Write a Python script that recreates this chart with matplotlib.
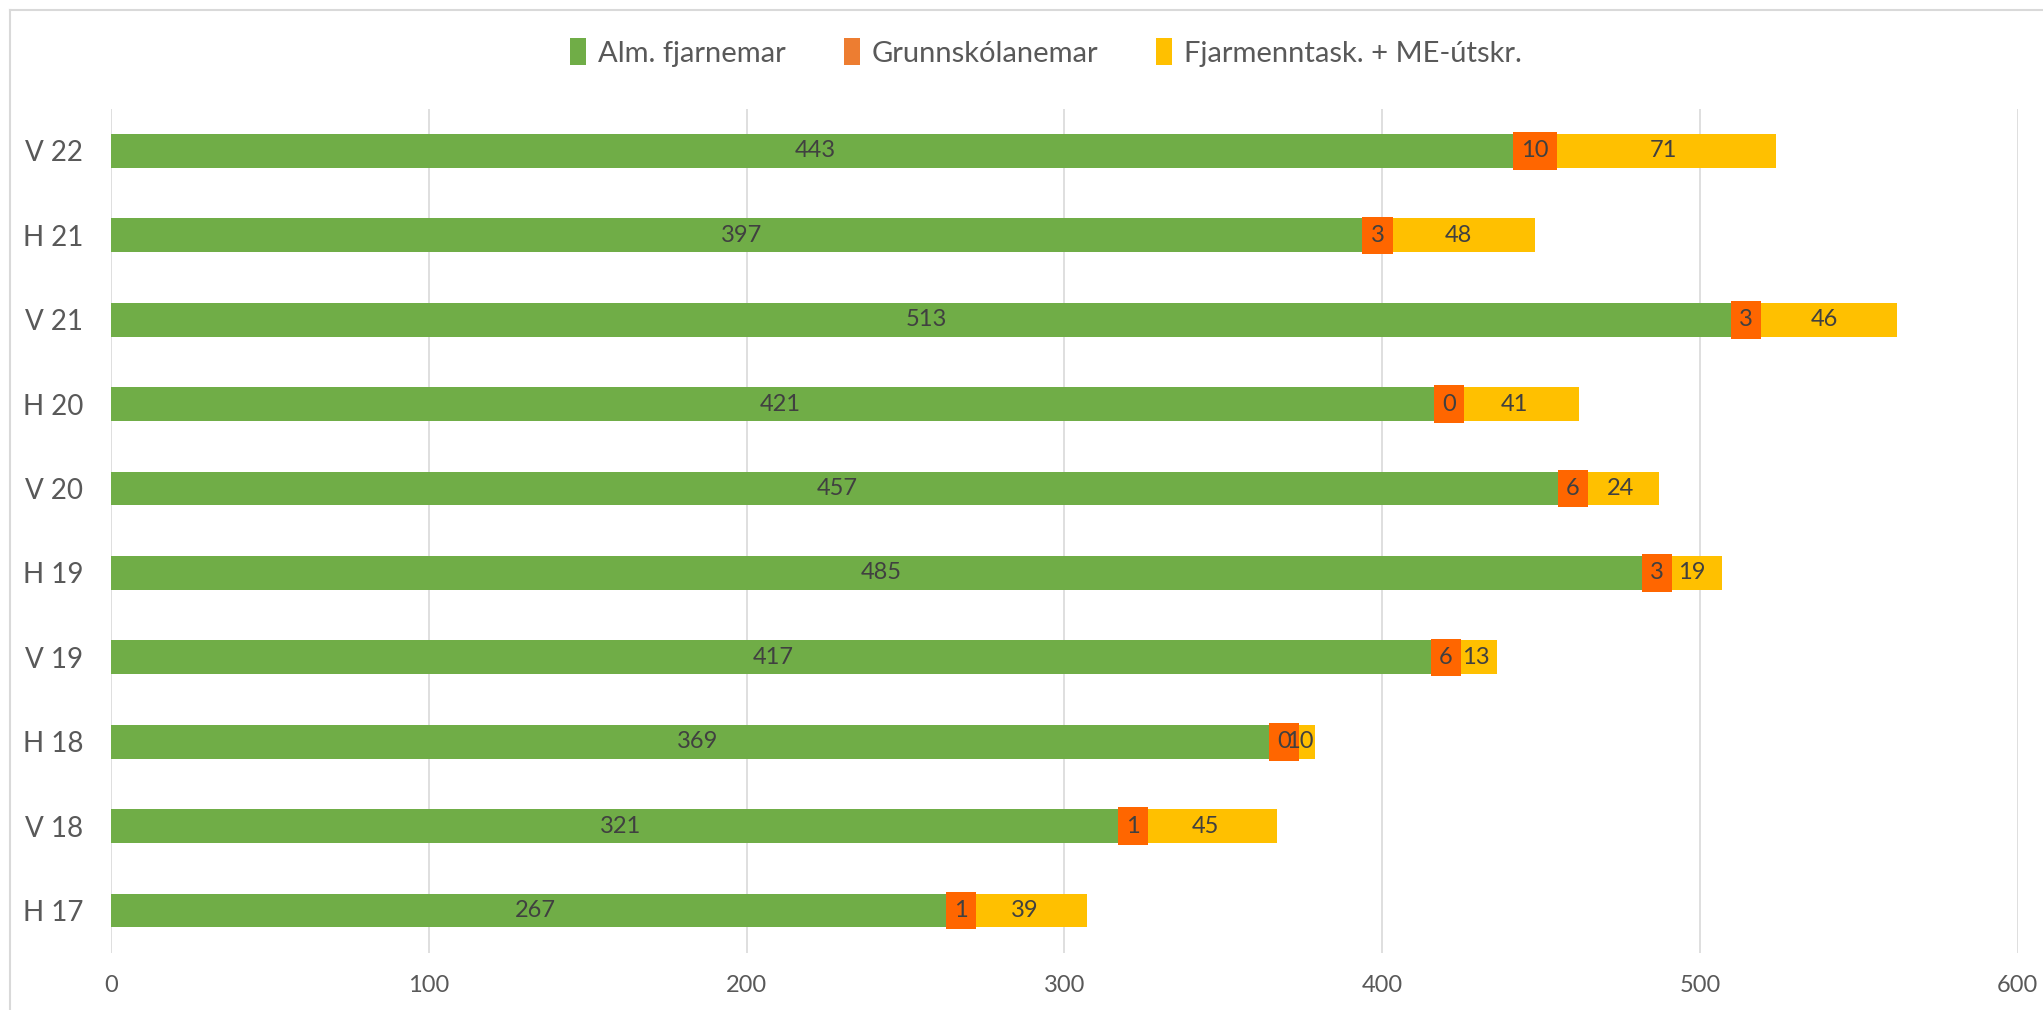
import matplotlib.pyplot as plt
from matplotlib.lines import Line2D

# data, bottom to top
flokkar = ["H 17", "V 18", "H 18", "V 19", "H 19", "V 20", "H 20", "V 21", "H 21", "V 22"]
alm = [267, 321, 369, 417, 485, 457, 421, 513, 397, 443]
grunnskoli = [1, 1, 0, 6, 3, 6, 0, 3, 3, 10]
fjarmennt = [39, 45, 10, 13, 19, 24, 41, 46, 48, 71]

plt.rcParams['font.family'] = ['Lato', 'DejaVu Sans']

fig = plt.figure(figsize=(20.43, 10.10), dpi=100)
ax = fig.add_axes([0.0543, 0.0567, 0.9334, 0.8356])

y = range(len(flokkar))
h = 0.40
left2 = [a for a in alm]
left3 = [a + g for a, g in zip(alm, grunnskoli)]

b1 = ax.barh(y, alm, height=h, color="#70AD47", label="Alm. fjarnemar", zorder=3)
b2 = ax.barh(y, grunnskoli, left=left2, height=h, color="#ED7D31", label="Grunnskólanemar", zorder=3)
b3 = ax.barh(y, fjarmennt, left=left3, height=h, color="#FFC000", label="Fjarmenntask. + ME-útskr.", zorder=3)

ax.bar_label(b1, label_type='center', fontsize=17, color="#404040")
ax.bar_label(b2, label_type='center', fontsize=17, color="#404040",
             bbox=dict(boxstyle='square,pad=0.35', fc="#FF6600", ec="none"), zorder=5)
ax.bar_label(b3, label_type='center', fontsize=17, color="#404040", zorder=6)

ax.set_xlim(0, 600)
ax.set_ylim(-0.5, len(flokkar) - 0.5)
ax.set_xticks(range(0, 601, 100))
ax.set_yticks(list(y))
ax.set_yticklabels(flokkar)
ax.tick_params(axis='y', length=0, pad=20, labelsize=20, labelcolor="#595959")
ax.tick_params(axis='x', length=0, pad=16, labelsize=17, labelcolor="#595959")
ax.grid(axis='x', color="#D9D9D9", linewidth=1.2, zorder=0)
for s in ax.spines.values():
    s.set_visible(False)

fig.legend(handles=[b1, b2, b3], loc='center', bbox_to_anchor=(0.512, 0.948), ncol=3,
           frameon=False, fontsize=21, labelcolor="#595959", handlelength=0.55,
           handleheight=1.0, handletextpad=0.4, columnspacing=2.0)

# chart area border
fig.add_artist(Line2D([10/2043, 1], [1 - 10/1010, 1 - 10/1010], color="#D9D9D9", lw=1.5))
fig.add_artist(Line2D([10/2043, 10/2043], [0, 1 - 10/1010], color="#D9D9D9", lw=1.5))

fig.savefig("out.png", dpi=100)
